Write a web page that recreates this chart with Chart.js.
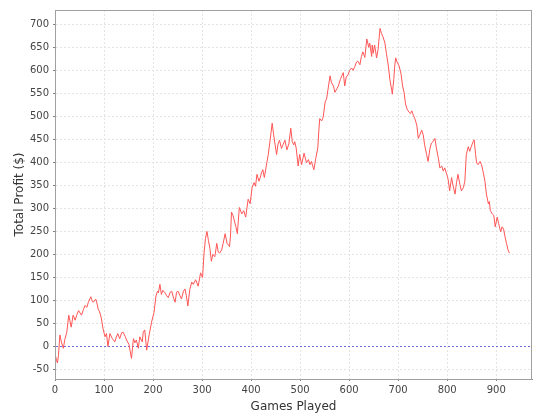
<!DOCTYPE html>
<html>
<head>
    <meta charset="utf-8">
    <title>Total Profit</title>
    <style>
        body { margin: 0; background: #fff; }
        canvas { display: block; }
    </style>
    <script src="https://cdn.jsdelivr.net/npm/chart.js"></script>
</head>
<body>
    <canvas id="myChart" width="540" height="420"></canvas>
    <script>
        // values (game number, running profit in $)
        var games = [0, 3, 5, 7, 10, 13, 17, 20, 24, 28, 33, 37, 41, 45, 48, 54, 58, 61, 65, 68,
            73, 76, 78, 83, 86, 88, 91, 94, 98, 102, 105, 108, 112, 117, 122, 125, 128, 132, 136, 139,
            143, 146, 151, 156, 160, 163, 166, 170, 173, 178, 180, 183, 187, 192, 197, 202, 206, 209, 211, 214,
            217, 220, 224, 228, 231, 235, 238, 242, 245, 248, 251, 255, 258, 262, 265, 268, 271, 275, 279, 282,
            287, 292, 297, 301, 304, 307, 310, 313, 316, 319, 322, 326, 330, 333, 336, 340, 343, 347, 351, 356,
            358, 360, 363, 365, 369, 372, 376, 381, 385, 389, 394, 398, 402, 406, 409, 412, 416, 419, 421, 424,
            427, 432, 435, 439, 443, 446, 449, 452, 455, 458, 462, 465, 469, 473, 477, 481, 484, 487, 489, 492,
            496, 499, 503, 508, 513, 517, 520, 523, 528, 532, 536, 538, 540, 544, 547, 551, 554, 557, 561, 564,
            568, 571, 575, 578, 582, 585, 588, 591, 594, 598, 601, 605, 608, 612, 615, 618, 622, 625, 628, 632,
            636, 640, 642, 646, 647, 649, 652, 656, 659, 663, 666, 669, 673, 676, 680, 683, 687, 688, 691, 693,
            695, 697, 702, 706, 709, 712, 715, 718, 722, 725, 728, 731, 734, 738, 741, 744, 748, 751, 754, 758,
            761, 765, 768, 771, 775, 778, 782, 785, 789, 792, 795, 799, 802, 805, 809, 812, 816, 819, 822, 826,
            829, 833, 836, 839, 843, 846, 849, 853, 855, 858, 860, 863, 867, 870, 873, 877, 880, 884, 886, 888,
            892, 895, 898, 902, 905, 909, 912, 915, 918, 921, 924, 927];
        var profit = [-15, -30, -36, -20, 25, 10, -4, 15, 31, 68, 42, 68, 57, 70, 78, 68, 80, 89, 85, 96,
            108, 98, 96, 103, 92, 81, 75, 64, 39, 21, 28, 0, 28, 17, 10, 20, 28, 17, 30, 31,
            22, 14, 4, -26, 17, 8, 14, -4, 21, 10, 31, 36, -8, 25, 53, 74, 110, 120, 117, 135,
            113, 122, 117, 110, 106, 118, 120, 105, 96, 118, 120, 110, 103, 120, 125, 110, 88, 124, 140, 135,
            145, 131, 160, 150, 203, 235, 250, 230, 213, 185, 200, 195, 224, 205, 203, 210, 224, 245, 224, 217,
            240, 292, 285, 277, 260, 245, 302, 288, 295, 281, 320, 310, 345, 356, 348, 374, 359, 368, 377, 384,
            367, 399, 417, 450, 485, 460, 438, 417, 440, 448, 430, 438, 448, 427, 440, 474, 445, 438, 445, 431,
            392, 417, 395, 420, 399, 406, 395, 402, 384, 409, 431, 466, 495, 490, 498, 531, 538, 559, 588, 573,
            566, 552, 560, 566, 580, 588, 595, 566, 585, 591, 600, 605, 600, 609, 618, 620, 612, 630, 640, 628,
            668, 650, 659, 630, 655, 637, 655, 627, 645, 691, 680, 673, 659, 637, 609, 580, 556, 548, 580, 609,
            627, 620, 609, 591, 566, 552, 527, 516, 509, 506, 512, 502, 495, 481, 452, 459, 470, 460, 438, 417,
            402, 431, 442, 445, 452, 431, 409, 388, 392, 381, 388, 374, 363, 338, 367, 349, 331, 356, 374, 352,
            338, 345, 359, 417, 434, 424, 434, 445, 449, 417, 399, 395, 402, 395, 381, 359, 331, 310, 315, 295,
            288, 285, 260, 281, 267, 249, 260, 255, 238, 224, 210, 203];
        var xTicks = [0, 100, 200, 300, 400, 500, 600, 700, 800, 900];
        var yTicks = [-50, 0, 50, 100, 150, 200, 250, 300, 350, 400, 450, 500, 550, 600, 650, 700];

        var points = [];
        for (var i = 0; i < games.length; i++) {
            points.push({ x: games[i], y: profit[i] });
        }

        // grey frame round the plot area
        var plotFrame = {
            id: 'plotFrame',
            afterDraw: function (chart) {
                var a = chart.chartArea;
                var ctx = chart.ctx;
                ctx.save();
                ctx.strokeStyle = '#a0a0a0';
                ctx.lineWidth = 1;
                ctx.strokeRect(a.left + 0.5, a.top + 0.5, a.right - a.left - 1, a.bottom - a.top);
                ctx.restore();
            }
        };

        var tickFont = { family: 'DejaVu Sans', size: 10 };
        var titleFont = { family: 'DejaVu Sans', size: 12 };
        var gridGrey = '#e4e4e4';

        var ctx = document.getElementById('myChart').getContext('2d');
        window.myChart = new Chart(ctx, {
            type: 'line',
            data: {
                datasets: [{
                    data: points,
                    borderColor: '#ff5555',
                    borderWidth: 1,
                    pointRadius: 0,
                    tension: 0
                }]
            },
            options: {
                responsive: false,
                animation: false,
                layout: { padding: { top: 4, right: 8, left: 0, bottom: 0 } },
                plugins: { legend: { display: false }, tooltip: { enabled: false } },
                scales: {
                    x: {
                        type: 'linear',
                        min: 0,
                        max: 973,
                        afterBuildTicks: function (s) { s.ticks = xTicks.map(function (v) { return { value: v }; }); },
                        afterFit: function (s) { s.height = 41; },
                        grid: { color: gridGrey, tickColor: '#808080', tickLength: 2 },
                        border: { color: '#808080', dash: [2, 2] },
                        ticks: { font: tickFont, color: '#444', padding: 3, maxRotation: 0 },
                        title: { display: true, text: 'Games Played', font: titleFont, color: '#333', padding: { top: 2, bottom: 6 } }
                    },
                    y: {
                        min: -70.7,
                        max: 731,
                        afterBuildTicks: function (s) { s.ticks = yTicks.map(function (v) { return { value: v }; }); },
                        afterFit: function (s) { s.width = 55; },
                        grid: {
                            color: function (c) { return c.tick && c.tick.value === 0 ? '#6a6ad8' : gridGrey; },
                            tickColor: '#808080',
                            tickLength: 2
                        },
                        border: { color: '#808080', dash: [2, 2] },
                        ticks: { font: tickFont, color: '#444', padding: 4 },
                        title: { display: true, text: 'Total Profit ($)', font: titleFont, color: '#333', padding: { top: 13, bottom: 2 } }
                    }
                }
            },
            plugins: [plotFrame]
        });
    </script>
</body>
</html>
